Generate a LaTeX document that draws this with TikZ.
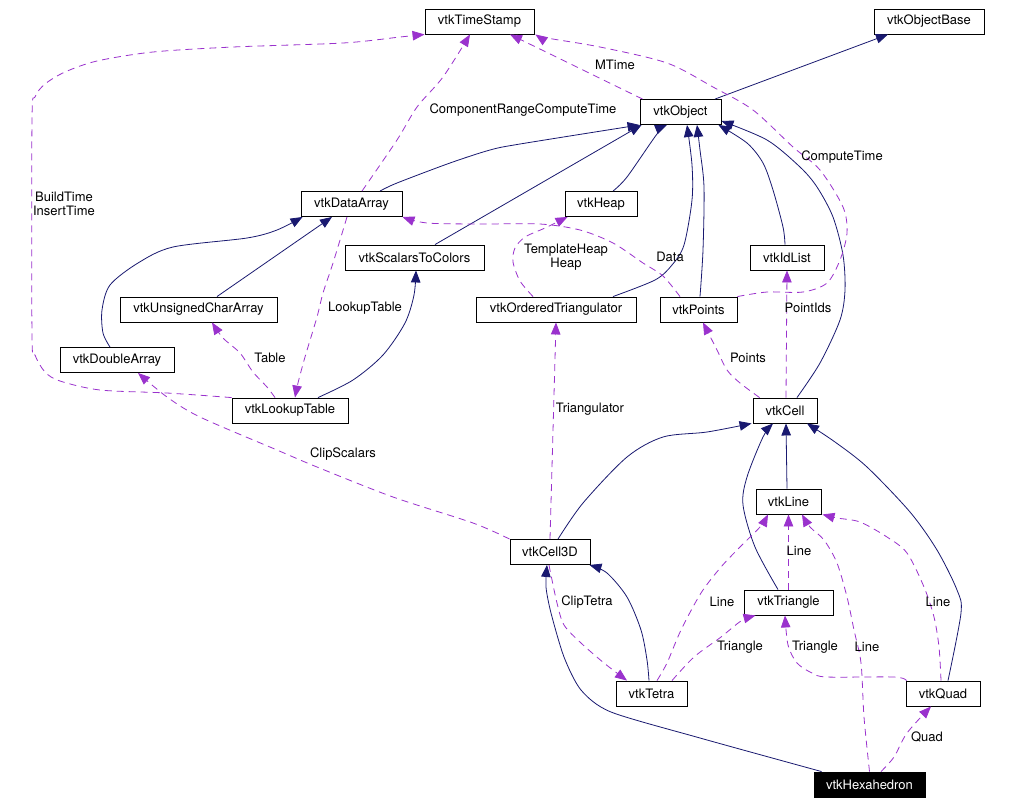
\documentclass[tikz,border=0pt]{standalone}
\usepackage{fontspec}
\setmainfont{TeX Gyre Heros}
\usetikzlibrary{arrows.meta}
\definecolor{inhc}{HTML}{191970}
\definecolor{usec}{HTML}{9A32CD}
\begin{document}
\begin{tikzpicture}[x=1pt,y=-1pt,
  cls/.style={draw=black,line width=0.9pt,minimum height=25pt,inner sep=0pt,font=\fontsize{13}{14}\selectfont},
  inhe/.style={draw=inhc,line width=0.8pt,-{Triangle[length=12pt,width=9.5pt]}},
  usee/.style={draw=usec,line width=0.8pt,dash pattern=on 7pt off 5pt,-{Triangle[length=12pt,width=9.5pt]}},
  lab/.style={font=\fontsize{13}{14}\selectfont,inner sep=0pt,align=center}]
\useasboundingbox[fill=white] (0,0) rectangle (1014,804);
% nodes
\node[cls,minimum width=109pt] (ts) at (479.5,21.5) {vtkTimeStamp};
\node[cls,minimum width=110pt] (ob) at (929,21.5) {vtkObjectBase};
\node[cls,minimum width=81pt] (obj) at (680.5,112) {vtkObject};
\node[cls,minimum width=101pt] (da) at (351.5,204) {vtkDataArray};
\node[cls,minimum width=72pt] (heap) at (601,204) {vtkHeap};
\node[cls,minimum width=139pt] (s2c) at (414.5,257.5) {vtkScalarsToColors};
\node[cls,minimum width=74pt] (idl) at (787,257.5) {vtkIdList};
\node[cls,minimum width=157pt] (uca) at (198.5,309.5) {vtkUnsignedCharArray};
\node[cls,minimum width=160pt] (ot) at (556,309.5) {vtkOrderedTriangulator};
\node[cls,minimum width=77pt] (pts) at (698.5,309.5) {vtkPoints};
\node[cls,minimum width=114pt] (dbl) at (117,360) {vtkDoubleArray};
\node[cls,minimum width=116pt] (lut) at (290,410.5) {vtkLookupTable};
\node[cls,minimum width=64pt] (cell) at (785,410.5) {vtkCell};
\node[cls,minimum width=65pt] (ln) at (788.5,501.5) {vtkLine};
\node[cls,minimum width=80pt] (c3d) at (550,552) {vtkCell3D};
\node[cls,minimum width=89pt] (tri) at (788.5,602.5) {vtkTriangle};
\node[cls,minimum width=71pt] (tet) at (651.5,693.5) {vtkTetra};
\node[cls,minimum width=74pt] (quad) at (943,693.5) {vtkQuad};
\node[cls,minimum width=111pt,fill=black,text=white] (hex) at (869.5,784.5) {vtkHexahedron};
% inheritance
\draw[inhe] ([xshift=34.5pt]obj.north) -- ([xshift=-41pt]ob.south);
\draw[inhe] plot[smooth] coordinates {([xshift=28.5pt]da.north) (397,183) (450,163) (490,150) (520,144) (obj.south west)};
\draw[inhe] ([xshift=20.5pt]s2c.north) -- ([xshift=2pt]obj.south west);
\draw[inhe] plot[smooth] coordinates {([xshift=12pt]heap.north) (627,177) (657,134) ([xshift=-13.5pt]obj.south)};
\draw[inhe] plot[smooth] coordinates {([xshift=57pt]ot.north) (655,280) (672,265) (684,245) (692,200) (692,165) ([xshift=6.5pt]obj.south)};
\draw[inhe] plot[smooth] coordinates {([xshift=1.5pt]pts.north) (703,250) (704,187) (700,150) ([xshift=16.5pt]obj.south)};
\draw[inhe] plot[smooth] coordinates {([xshift=-2pt]idl.north) (783,227) (773,190) (763,163) (747,143) ([xshift=-3pt]obj.south east)};
\draw[inhe] plot[smooth] coordinates {([xshift=12pt]cell.north) (820,363) (840,320) (845,290) (843,255) (833,217) (817,187) (800,167) (767,140) ([shift={(0,9)}]obj.east)};
\draw[inhe] ([xshift=18.5pt]uca.north) -- ([xshift=-19.5pt]da.south);
\draw[inhe] plot[smooth] coordinates {([xshift=-7pt]dbl.north) (103,333) (102,310) (110,285) (138,263) (173,247) (247,238) (277,230) ([xshift=2pt]da.south west)};
\draw[inhe] plot[smooth] coordinates {([xshift=28pt]lut.north) (353,380) (383,355) (405,323) (414,295) ([xshift=1.5pt]s2c.south)};
\draw[inhe] plot[smooth] coordinates {([xshift=8pt]c3d.north) (583,503) (627,457) (663,437) (707,432) ([xshift=-1pt]cell.south west)};
\draw[inhe] plot[smooth] coordinates {([xshift=-10.5pt]tri.north) (755,547) (743,505) (747,477) (763,437) ([xshift=-12pt]cell.south)};
\draw[inhe] ([xshift=-1.5pt]ln.north) -- ([xshift=1pt]cell.south);
\draw[inhe] plot[smooth] coordinates {([xshift=5pt]quad.north) (961,613) (957,590) (937,550) (910,512) (867,467) (835,442) ([xshift=22pt]cell.south)};
\draw[inhe] plot[smooth] coordinates {([xshift=-2.5pt]tet.north) (647,660) (641,630) (627,597) (607,573) ([xshift=-1pt]c3d.south east)};
\draw[inhe] plot[smooth,tension=0.45] coordinates {([xshift=8pt]hex.north west) (700,738) (611,712) (581,690) (564,657) (551,613) (546,587) ([xshift=-3pt]c3d.south)};
% usage
\draw[usee] ([xshift=3pt]obj.north west) -- ([xshift=30.5pt]ts.south);
\draw[usee] plot[smooth] coordinates {([xshift=10.5pt]da.north) (397,140) (417,107) (443,77) ([xshift=-9.5pt]ts.south)};
\draw[usee] plot[smooth] coordinates {(lut.north west) (167,393) (100,390) (60,381) (45,372) (35,355) (32,335) (32,120) (35,97) (45,84) (65,72) (97,61) (153,52) (233,47) (343,43) (400,37) (ts.south west)};
\draw[usee] plot[smooth] coordinates {(pts.north east) (767,292) (803,292) (827,283) (840,260) (847,233) (843,207) (820,170) (793,147) (753,110) (713,87) (667,63) (600,47) (547,38) ([xshift=1pt]ts.south east)};
\draw[usee] plot[smooth] coordinates {([xshift=-18.5pt]pts.north) (663,276) (643,263) (613,243) (580,230) (540,224) (480,224) (427,223) (da.south east)};
\draw[usee] plot[smooth] coordinates {([xshift=-23pt]ot.north) (520,281) (513,262) (515,248) (525,237) (545,228) ([xshift=3pt]heap.south west)};
\draw[usee] plot[smooth] coordinates {([xshift=-15pt]lut.north) (267,387) (253,372) (240,353) (223,338) ([xshift=13.5pt]uca.south)};
\draw[usee] plot[smooth] coordinates {([xshift=-4.5pt]da.south) (333,263) (323,293) (317,317) (305,357) (298,383) ([xshift=5pt]lut.north)};
\draw[usee] plot[smooth] coordinates {(c3d.north west) (473,523) (393,497) (317,467) (277,450) (200,417) (167,397) ([xshift=21pt]dbl.south)};
\draw[usee] (c3d.north) -- (ot.south);
\draw[usee] plot[smooth] coordinates {([xshift=7pt]cell.north west) (740,383) (727,370) (717,350) ([xshift=4.5pt]pts.south)};
\draw[usee] ([xshift=1pt]cell.north) -- (idl.south);
\draw[usee] plot[smooth] coordinates {([xshift=-1pt]c3d.south) (551,575) (557,603) (564,625) (581,643) (604,663) ([xshift=-24.5pt]tet.north)};
\draw[usee] plot[smooth] coordinates {([xshift=5.5pt]tet.north) (667,663) (681,630) (701,593) (721,567) (740,547) (760,527) ([xshift=-20.5pt]ln.south)};
\draw[usee] plot[smooth] coordinates {([xshift=20.5pt]tet.north) (694,657) (721,637) (741,621) ([xshift=12pt]tri.south west)};
\draw[usee] (tri.north) -- (ln.south);
\draw[usee] plot[smooth] coordinates {([xshift=1pt]quad.north west) (894,677) (827,677) (812,673) (797,663) (788,645) ([xshift=-3.5pt]tri.south)};
\draw[usee] plot[smooth] coordinates {(hex.north) (864,717) (861,663) (854,630) (847,597) (837,563) (824,540) (810,527) ([xshift=13.5pt]ln.south)};
\draw[usee] plot[smooth] coordinates {([xshift=-2pt]quad.north) (939,647) (934,617) (924,587) (907,553) (887,537) (860,522) (837,518) ([xshift=1pt]ln.south east)};
\draw[usee] plot[smooth] coordinates {([xshift=11.5pt]hex.north) (894,757) (907,733) ([xshift=-12pt]quad.south)};
% labels
\node[lab] (l1) at (615,65) {MTime};
\node[lab] (l2) at (523,110) {ComponentRangeComputeTime};
\node[lab] (l3) at (64,204) {BuildTime\\InsertTime};
\node[lab] (l4) at (842,157) {ComputeTime};
\node[lab] (l5) at (670,257) {Data};
\node[lab] (l6) at (566,257) {TemplateHeap\\Heap};
\node[lab] (l7) at (270,358) {Table};
\node[lab] (l8) at (365,308) {LookupTable};
\node[lab] (l9) at (343,454) {ClipScalars};
\node[lab] (l10) at (590,409) {Triangulator};
\node[lab] (l11) at (748,358) {Points};
\node[lab] (l12) at (808,308) {PointIds};
\node[lab] (l13) at (587,602) {ClipTetra};
\node[lab] (l14) at (722,602) {Line};
\node[lab] (l15) at (740,647) {Triangle};
\node[lab] (l16) at (799,551) {Line};
\node[lab] (l17) at (815,647) {Triangle};
\node[lab] (l18) at (867,647) {Line};
\node[lab] (l19) at (938,602) {Line};
\node[lab] (l20) at (927,737) {Quad};
\end{tikzpicture}
\end{document}
